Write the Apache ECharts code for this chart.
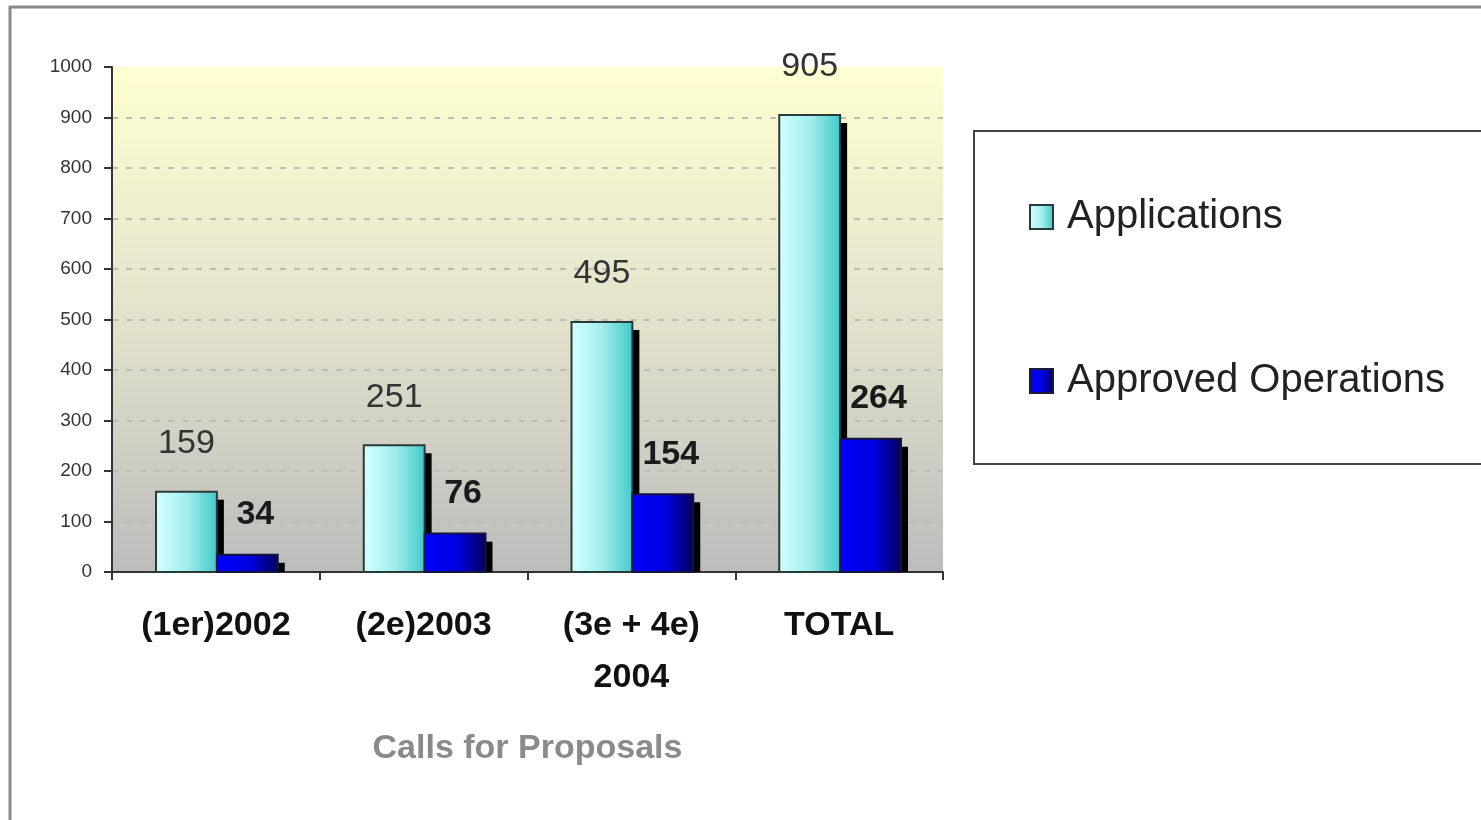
<!DOCTYPE html>
<html>
<head>
<meta charset="utf-8">
<script src="https://cdn.jsdelivr.net/npm/echarts@6/dist/echarts.min.js"></script>
<style>
html,body{margin:0;padding:0;background:#fff;}
#c{width:1481px;height:820px;}
</style>
</head>
<body>
<div id="c"></div>
<script>
const categories = ['(1er)2002', '(2e)2003', '(3e + 4e)\n2004', 'TOTAL'];
const applications = [159, 251, 495, 905];
const approved = [34, 76, 154, 264];
const yTicks = [0, 100, 200, 300, 400, 500, 600, 700, 800, 900, 1000];
const seriesNames = ['Applications', 'Approved Operations'];
const xAxisTitle = 'Calls for Proposals';

const FONT = "'Liberation Sans', Arial, sans-serif";
const G = echarts.graphic;

const appGrad = () => new G.LinearGradient(0, 0, 1, 0, [
  {offset: 0, color: '#d4ffff'}, {offset: 0.5, color: '#a4eeee'}, {offset: 1, color: '#40c8c8'}]);
const apprGrad = () => new G.LinearGradient(0, 0, 1, 0, [
  {offset: 0, color: '#0000ff'}, {offset: 0.55, color: '#0000e0'}, {offset: 1, color: '#000058'}]);

function makeRender(side, gradFn, stroke, labelCfg) {
  return function (params, api) {
    const i = api.value(0), v = api.value(1);
    const top = api.coord([i, v]);
    const base = api.coord([i, 0]);
    const band = api.size([1, 0])[0];
    const w = band * 0.293;
    const x = side < 0 ? top[0] - w + 1 : top[0] + 1;
    const h = base[1] - top[1];
    return {
      type: 'group',
      children: [
        {type: 'rect', shape: {x: x + w, y: top[1] + 8, width: 7, height: Math.max(0, h - 8)}, style: {fill: '#000'}},
        {type: 'rect', shape: {x: x, y: top[1], width: w, height: h}, style: {fill: gradFn(), stroke: stroke, lineWidth: 2}},
        {type: 'text', style: {
          text: String(v), x: x + w / 2 + labelCfg.dx, y: top[1] - labelCfg.dy,
          align: 'center', verticalAlign: 'middle',
          fill: labelCfg.color, fontSize: labelCfg.size, fontWeight: labelCfg.weight, fontFamily: FONT
        }}
      ]
    };
  };
}

const chart = echarts.init(document.getElementById('c'));
chart.setOption({
  animation: false,
  backgroundColor: '#ffffff',
  grid: {
    left: 112, right: 538, top: 67, bottom: 248,
    show: true, borderWidth: 0,
    backgroundColor: new G.LinearGradient(0, 0, 0, 1, [
      {offset: 0, color: '#ffffd2'}, {offset: 0.5, color: '#e2e2cc'}, {offset: 1, color: '#bcbcbc'}])
  },
  legend: {
    orient: 'vertical', left: 1024, top: 192, itemGap: 124,
    itemWidth: 23, itemHeight: 24,
    textStyle: {fontSize: 40, fontFamily: FONT, color: '#222', padding: [0, 0, 0, 9]},
    data: [
      {name: seriesNames[0], icon: 'rect', itemStyle: {color: appGrad(), borderColor: '#2a3a3a', borderWidth: 2}},
      {name: seriesNames[1], icon: 'rect', itemStyle: {color: apprGrad(), borderColor: '#1a1a3a', borderWidth: 2}}
    ]
  },
  xAxis: {
    type: 'category', data: categories,
    axisLine: {lineStyle: {color: '#333', width: 2}},
    axisTick: {show: true, length: 8, lineStyle: {color: '#333', width: 2}},
    axisLabel: {fontSize: 34, fontWeight: 'bold', fontFamily: FONT, color: '#111', margin: 28, lineHeight: 52, verticalAlign: 'top'},
    name: xAxisTitle, nameLocation: 'middle', nameGap: 160,
    nameTextStyle: {fontSize: 34, fontWeight: 'bold', fontFamily: FONT, color: '#8a8a8a'}
  },
  yAxis: {
    type: 'value', min: yTicks[0], max: yTicks[yTicks.length - 1], interval: 100,
    axisLine: {show: true, lineStyle: {color: '#333', width: 2}},
    axisTick: {show: true, length: 8, lineStyle: {color: '#333', width: 2}},
    axisLabel: {fontSize: 19, fontFamily: FONT, color: '#333', margin: 20, formatter: v => String(v)},
    splitLine: {show: true, showMaxLine: false, showMinLine: false, lineStyle: {color: '#bdbdb5', width: 2, type: [6, 8]}}
  },
  series: [
    {
      name: seriesNames[0], type: 'custom',
      itemStyle: {color: '#8ee0e0'},
      encode: {x: 0, y: 1},
      data: applications.map((v, i) => [i, v]),
      renderItem: makeRender(-1, appGrad, '#2a3a3a', {dx: 0, dy: 48, size: 34, weight: 'normal', color: '#333'})
    },
    {
      name: seriesNames[1], type: 'custom',
      itemStyle: {color: '#0000c0'},
      encode: {x: 0, y: 1},
      data: approved.map((v, i) => [i, v]),
      renderItem: makeRender(1, apprGrad, '#14143c', {dx: 8, dy: 40, size: 34, weight: 'bold', color: '#1a1a1a'})
    }
  ],
  graphic: [
    {type: 'line', shape: {x1: 9, y1: 7, x2: 1481, y2: 7}, style: {stroke: '#8a8a8a', lineWidth: 3}, z: 100},
    {type: 'line', shape: {x1: 10, y1: 6, x2: 10, y2: 820}, style: {stroke: '#8a8a8a', lineWidth: 3}, z: 100},
    {type: 'rect', shape: {x: 974, y: 131, width: 600, height: 333}, style: {fill: 'none', stroke: '#444', lineWidth: 2}, z: 100}
  ]
});
</script>
</body>
</html>
